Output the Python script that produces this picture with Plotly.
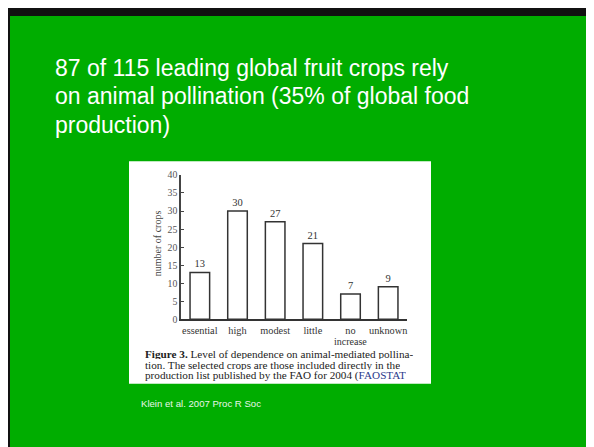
import plotly.graph_objects as go

W, H = 594, 447
OFF = 8  # the page puts the figure 8px in from the window's top-left corner

categories = ["essential", "high", "modest", "little", "no increase", "unknown"]
crops = [13, 30, 27, 21, 7, 9]
y_ticks = [0, 5, 10, 15, 20, 25, 30, 35, 40]

title_lines = [
    "87 of 115 leading global fruit crops rely",
    "on animal pollination (35% of global food",
    "production)",
]
caption_lines = [
    "<b>Figure 3.</b> Level of dependence on animal-mediated pollina-",
    "tion. The selected crops are those included directly in the",
    "production list published by the FAO for 2004 (<span style='color:#2b3a8c'>FAOSTAT</span>",
]
citation = "Klein et al. 2007 Proc R Soc"


# window pixel -> paper fraction
def px(x):
    return (x - OFF) / W


def py(y):
    return 1 - (y - OFF) / H


GREEN = "#00ad00"
SERIF = "Liberation Serif, Times New Roman, serif"
SANS = "Liberation Sans, Arial, sans-serif"

xs = list(range(len(categories)))
# two-word category: first word as tick label, second word set tighter below it
tick_text = [c.split(" ")[0] for c in categories]

fig = go.Figure()
fig.add_trace(go.Bar(
    x=xs, y=crops,
    width=0.52,
    marker=dict(color="white", line=dict(color="#333333", width=1.5)),
    text=[str(v) for v in crops], textposition="outside",
    textfont=dict(family=SERIF, size=10.5, color="#333333"),
    cliponaxis=False, showlegend=False,
))

# slide background (black edge via paper colour) and the pasted figure panel
shapes = [
    dict(type="rect", xref="paper", yref="paper", x0=px(10), x1=1.02, y0=-0.02, y1=py(10),
         fillcolor=GREEN, line=dict(width=0), layer="below"),
    dict(type="rect", xref="paper", yref="paper", x0=px(129), x1=px(431), y0=py(387), y1=py(159),
         fillcolor="white", line=dict(width=0), layer="below"),
]

annotations = []
for i, c in enumerate(categories):
    words = c.split(" ")
    if len(words) > 1:
        annotations.append(dict(
            text=" ".join(words[1:]), xref="x", yref="paper", x=xs[i], y=py(343.5),
            xanchor="center", yanchor="middle", showarrow=False,
            font=dict(family=SERIF, size=10, color="#333333"),
        ))
for i, line in enumerate(title_lines):
    annotations.append(dict(
        text=line, xref="paper", yref="paper", x=px(53), y=py(63 + i * 29.5),
        xanchor="left", yanchor="middle", showarrow=False,
        font=dict(family=SANS, size=23, color="white"),
    ))
for i, line in enumerate(caption_lines):
    annotations.append(dict(
        text=line, xref="paper", yref="paper", x=px(143), y=py(356 + i * 11.5),
        xanchor="left", yanchor="middle", showarrow=False, height=11,
        font=dict(family=SERIF, size=11.2, color="#222222"),
    ))
annotations.append(dict(
    text=citation, xref="paper", yref="paper", x=px(139), y=py(407),
    xanchor="left", yanchor="middle", showarrow=False,
    font=dict(family=SANS, size=9.6, color="#e8f5e8"),
))
annotations.append(dict(
    text="number of crops", xref="paper", yref="paper", x=px(157), y=py(243),
    xanchor="center", yanchor="middle", showarrow=False, textangle=-90,
    font=dict(family=SERIF, size=10, color="#444444"),
))

fig.update_layout(
    width=W, height=H,
    margin=dict(l=0, r=0, t=0, b=0),
    paper_bgcolor="#111111", plot_bgcolor="rgba(0,0,0,0)",
    shapes=shapes, annotations=annotations,
    xaxis=dict(
        domain=[px(181), px(407)], range=[-0.5, 5.5],
        tickmode="array", tickvals=xs, ticktext=tick_text,
        tickangle=0,
        showline=True, linecolor="#333333", linewidth=1.5,
        ticks="", showgrid=False, zeroline=False, fixedrange=True,
        ticklabelstandoff=1,
        tickfont=dict(family=SERIF, size=10.3, color="#333333"),
    ),
    yaxis=dict(
        domain=[py(321), py(173)], range=[0, 40],
        tickmode="array", tickvals=y_ticks,
        showline=True, linecolor="#444444", linewidth=1.5,
        ticks="inside", ticklen=3, tickcolor="#444444",
        showgrid=False, zeroline=False, fixedrange=True,
        tickfont=dict(family=SERIF, size=9.8, color="#555555"),
    ),
)

fig.write_html("out.html")
